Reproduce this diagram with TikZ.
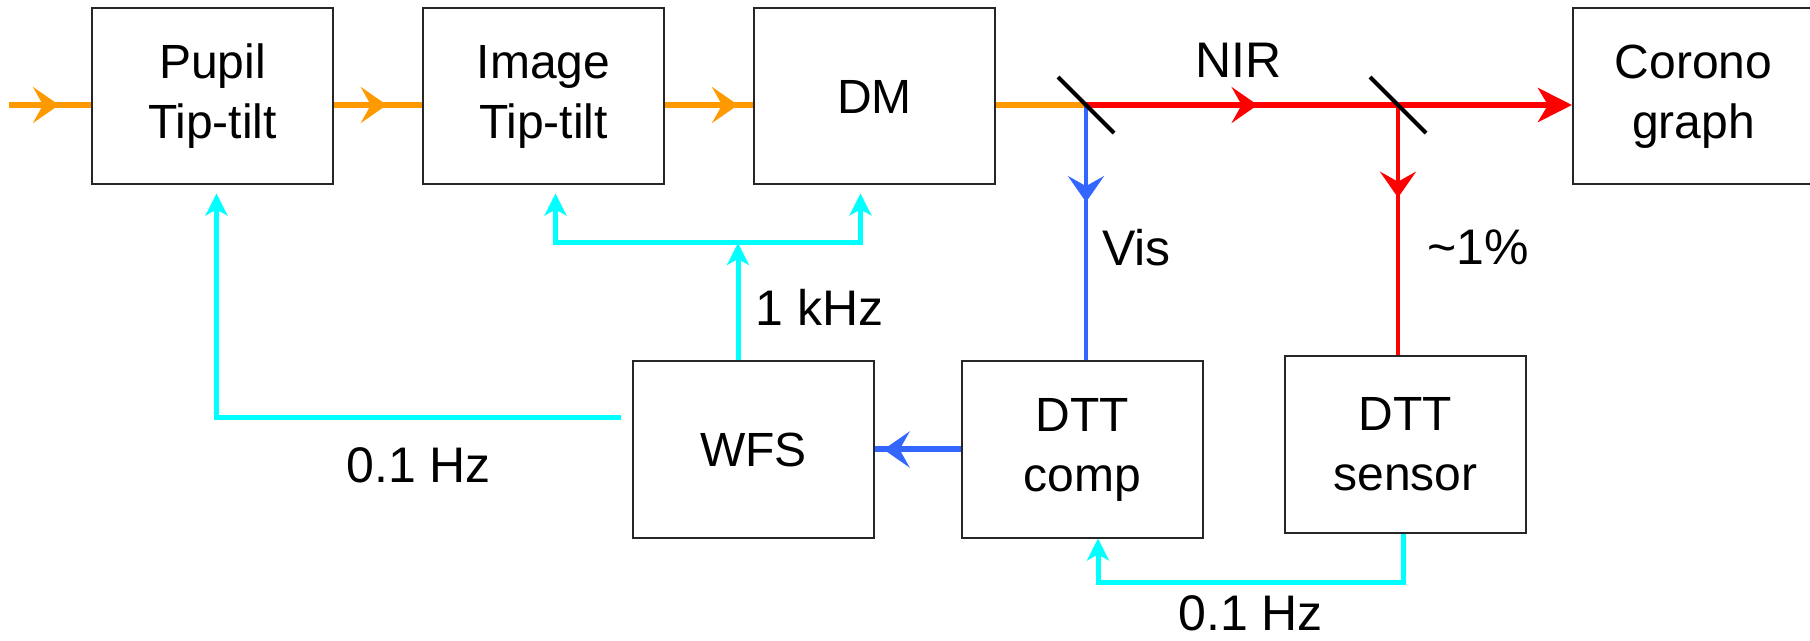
\documentclass[tikz,border=0pt]{standalone}
\usepackage{fontspec}
\setmainfont{Liberation Sans}
\usepackage{xcolor}
\usepackage{tikz}
\usetikzlibrary{positioning, arrows.meta, decorations.markings, calc}

\definecolor{beamorange}{RGB}{255,153,0}
\definecolor{visblue}{RGB}{51,102,255}
\definecolor{ctrlcyan}{RGB}{0,255,255}

\begin{document}
\begin{tikzpicture}[
    box/.style={
      draw=black!85, rectangle, line width=1pt,
      minimum width=120.5pt, minimum height=88pt, align=center,
      font=\fontsize{24}{30}\selectfont, inner sep=2pt
    },
    annot/.style={font=\fontsize{25}{30}\selectfont, inner sep=1pt, text=black},
    midarrow/.style={postaction={decorate}, decoration={markings,
      mark=at position #1 with {\arrow{Stealth[length=13pt, width=18pt, inset=5pt]}}}},
    orangebeam/.style={line width=3pt, color=beamorange},
    redbeam/.style={line width=3pt, color=red},
    redtap/.style={line width=2pt, color=red},
    bluetap/.style={line width=2pt, color=visblue},
    ctrl/.style={line width=2.5pt, color=ctrlcyan,
      -{Stealth[length=11pt, width=11pt, inset=3pt]}},
    mirror/.style={line width=2pt, color=black}
  ]

    \useasboundingbox (0,0) rectangle (905pt,-320.5pt);

    % ── Optical train ──
    \node[box] (pupil) at (106.25pt,-48.25pt) {Pupil\\Tip-tilt};
    \node[box, right=44pt of pupil] (image) {Image\\Tip-tilt};
    \node[box, right=44pt of image] (dm) {DM};
    \node[box, right=288pt of dm] (corono) {Corono\\graph};

    % ── Sensing and control ──
    \node[box] (wfs) at (376.75pt,-224.75pt) {WFS};
    \node[box, right=43pt of wfs] (comp) {DTT\\comp};
    \node[box, right=40pt of comp, yshift=2.5pt] (sensor) {DTT\\sensor};

    \coordinate (src) at (4.5pt,-52.5pt);
    \coordinate (split1) at (543pt,-52.5pt);
    \coordinate (split2) at (699pt,-52.5pt);
    \coordinate (fork) at (369pt,-121.5pt);

    % ── Beam ──
    \draw[orangebeam, midarrow=0.61] (src) -- (src -| pupil.west);
    \draw[orangebeam, midarrow=0.6] (src -| pupil.east) -- (src -| image.west);
    \draw[orangebeam, midarrow=0.83] (src -| image.east) -- (src -| dm.west);
    \draw[orangebeam] (src -| dm.east) -- (split1);
    \draw[redbeam, midarrow=0.55] (split1) --
      node[annot, above=11pt, pos=0.49] {NIR} (split2);
    \draw[redbeam, -{Stealth[length=17pt, width=17pt, inset=5pt]}]
      (split2) -- (src -| corono.west);

    \draw[bluetap, midarrow=0.38] (split1) --
      node[annot, right=6pt, pos=0.56] {Vis} (split1 |- comp.north);
    \draw[redtap, midarrow=0.37] (split2) --
      node[annot, right=12.5pt, pos=0.57] {\textasciitilde 1\%} (split2 |- sensor.north);
    \draw[bluetap, line width=3pt, midarrow=0.9]
      (comp.west) -- (comp.west -| wfs.east);

    \draw[mirror] (split1) ++(-14pt,14pt) -- ++(28pt,-28pt);
    \draw[mirror] (split2) ++(-14pt,14pt) -- ++(28pt,-28pt);

    % ── Control loops ──
    \draw[ctrl, shorten >=4pt] (fork) -| ([xshift=6pt]image.south);
    \draw[ctrl, shorten >=4pt] (fork) -| ([xshift=-7pt]dm.south);
    \draw[ctrl] (fork |- wfs.north) --
      node[annot, right=6.5pt, pos=0.45] {1 kHz} (fork);
    \draw[ctrl, shorten >=4pt] ([xshift=-5.5pt, yshift=16pt]wfs.west) -|
      node[annot, below=13pt, pos=0.25] {0.1 Hz} ([xshift=2pt]pupil.south);
    \draw[ctrl] ([xshift=-1pt]sensor.south) -- ++(0,-24.5pt) -|
      node[annot, below=4.5pt, pos=0.25] {0.1 Hz} ([xshift=7.75pt]comp.south);

  \end{tikzpicture}
\end{document}
